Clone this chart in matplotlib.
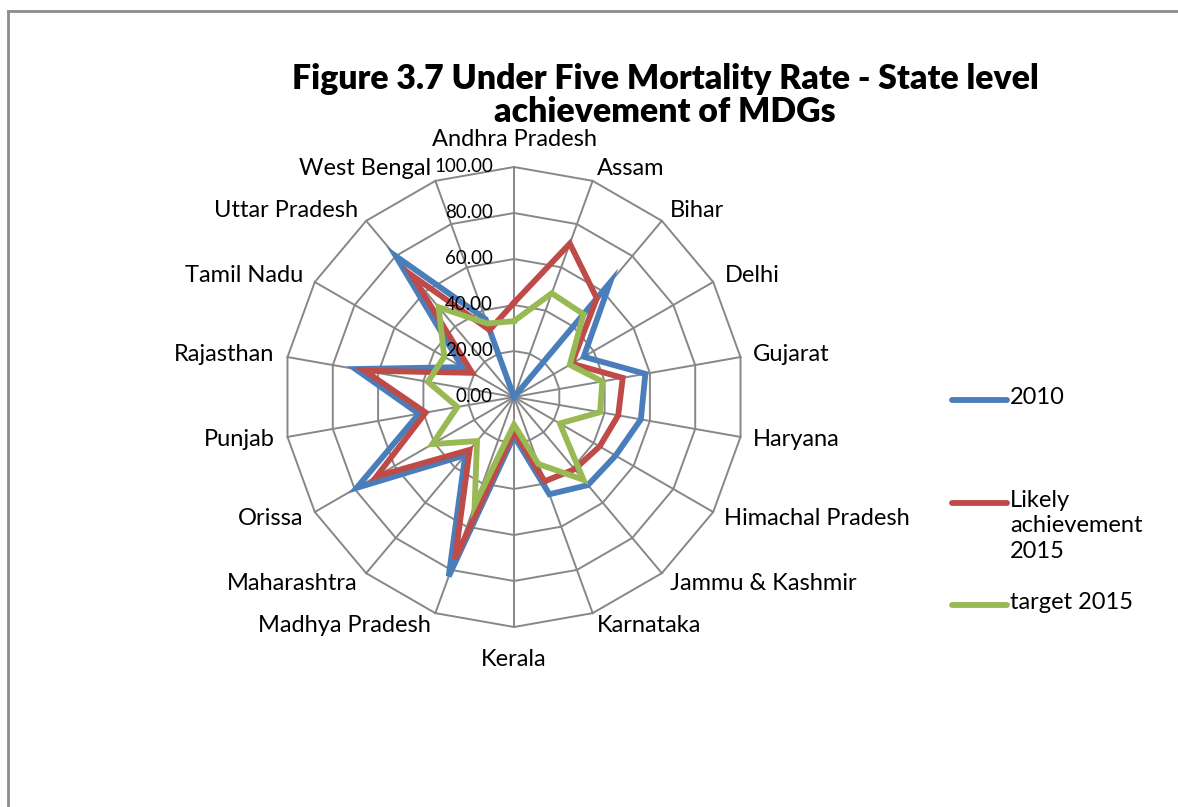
import numpy as np
import matplotlib
matplotlib.use("Agg")
import matplotlib.pyplot as plt
from matplotlib.lines import Line2D
from matplotlib.transforms import offset_copy

categories = ["Andhra Pradesh", "Assam", "Bihar", "Delhi", "Gujarat", "Haryana",
              "Himachal Pradesh", "Jammu & Kashmir", "Karnataka", "Kerala",
              "Madhya Pradesh", "Maharashtra", "Orissa", "Punjab", "Rajasthan",
              "Tamil Nadu", "Uttar Pradesh", "West Bengal"]

u5mr_2010 = [0, 0, 65, 35, 58, 56, 51, 50, 45, 17, 83, 33, 79, 42, 70, 26, 80, 36]
likely_2015 = [41, 71, 56, 29, 48, 46, 43, 41, 39, 15, 75, 30, 69, 39, 66, 21, 69, 31]
target_2015 = [33, 48, 47, 28, 39, 38, 23, 47, 31, 12, 50, 25, 41, 25, 38, 35, 51, 34]

series_names = ["2010", "Likely\nachievement\n2015", "target 2015"]
series_values = [u5mr_2010, likely_2015, target_2015]
series_colors = ["#4A7EBB", "#BE4B48", "#98B954"]

ring_values = [0, 20, 40, 60, 80, 100]
ring_labels = ["0.00", "20.00", "40.00", "60.00", "80.00", "100.00"]

title_lines = ["Figure 3.7 Under Five Mortality Rate - State level", "achievement of MDGs"]

W, H = 1178, 807
fig = plt.figure(figsize=(W / 100, H / 100), dpi=100)
fig.patch.set_facecolor("white")

cx, cy, R = 514, 397, 230
ax = fig.add_axes([(cx - R) / W, 1 - (cy + R) / H, 2 * R / W, 2 * R / H],
                  projection="polar")
ax.set_theta_zero_location("N")
ax.set_theta_direction(-1)
ax.set_ylim(0, 100)
ax.set_axis_off()

n = len(categories)
theta = np.arange(n) * 2 * np.pi / n
theta_closed = np.append(theta, theta[0])

grid_color = "#878787"
for t in theta:
    ax.plot([t, t], [0, 100], color=grid_color, lw=1.4, clip_on=False, zorder=1)
for r in ring_values[1:]:
    ax.plot(theta_closed, [r] * (n + 1), color=grid_color, lw=1.4,
            clip_on=False, zorder=1)

for vals, col in zip(series_values, series_colors):
    v = np.append(vals, vals[0])
    ax.plot(theta_closed, v, color=col, lw=4.2, solid_joinstyle="miter",
            clip_on=False, zorder=3)

label_font = "Lato"
# radial value labels
for r, lab in zip(ring_values, ring_labels):
    tr = offset_copy(ax.transData, fig=fig, x=-21, y=0, units="dots")
    ax.text(0, r, lab, transform=tr, ha="right", va="center",
            fontsize=13.5, family=label_font, color="#000000", zorder=4)

# category labels
for t, lab in zip(theta, categories):
    s, c = np.sin(t), np.cos(t)
    if abs(s) < 0.01:
        ha = "center"
        dx, dy = 0, (28 if c > 0 else 32) * c
    else:
        ha = "left" if s > 0 else "right"
        dx, dy = 13 * s, 13 * c
    tr = offset_copy(ax.transData, fig=fig, x=dx, y=dy, units="dots")
    ax.text(t, 100, lab, transform=tr, ha=ha, va="center",
            fontsize=17, family=label_font, color="#000000")

# title, fitted to the reference width of the first line
title_font = "Lato"
t1 = fig.text(665 / W, 1 - 79 / H, title_lines[0], ha="center", va="center",
              fontsize=22, fontweight="heavy", family=title_font)
t2 = fig.text(665 / W, 1 - 112 / H, title_lines[1], ha="center", va="center",
              fontsize=22, fontweight="heavy", family=title_font)
renderer = fig.canvas.get_renderer()
w1 = t1.get_window_extent(renderer).width
fs = 22 * 745 / w1
t1.set_fontsize(fs)
t2.set_fontsize(fs)

# legend (manual, Excel-like placement)
legend_y = [400, 503, 605]
for y, name, col in zip(legend_y, series_names, series_colors):
    fig.add_artist(Line2D([952 / W, 1007 / W], [1 - y / H, 1 - y / H],
                          color=col, lw=4.2, solid_capstyle="round"))
    fig.text(1010 / W, 1 - (y - 13) / H, name, ha="left", va="top",
             fontsize=17, family=label_font, linespacing=1.25)

# border
border = "#8C8C8C"
fig.add_artist(Line2D([7.5 / W, 1.0], [1 - 10.5 / H, 1 - 10.5 / H], color=border, lw=2))
fig.add_artist(Line2D([7.5 / W, 7.5 / W], [0, 1 - 10.5 / H], color=border, lw=2))

fig.savefig("out.png", dpi=100)
